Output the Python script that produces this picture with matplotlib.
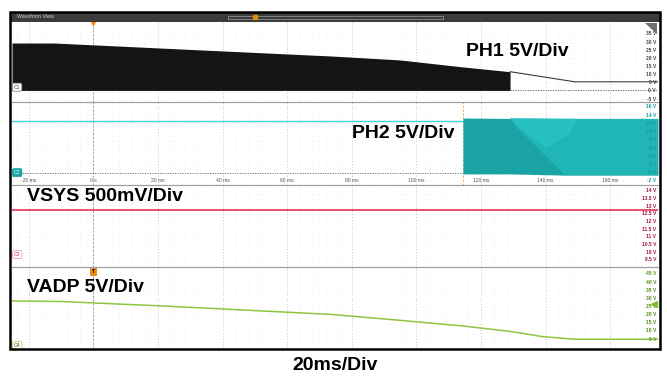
import matplotlib.pyplot as plt
import numpy as np
from matplotlib.patches import Rectangle, Polygon

plt.rcParams["font.family"] = ["Liberation Sans", "DejaVu Sans"]

W, H = 667, 379

# time axis (ms)
t_ticks = [-20, 0, 20, 40, 60, 80, 100, 120, 140, 160]
t_labels = ["-20 ms", "0 s", "20 ms", "40 ms", "60 ms", "80 ms", "100 ms", "120 ms", "140 ms", "160 ms"]

# PH1: switching node envelope (black band) then tail
ph1_t = [-25.2, -12, 22, 74, 95, 114, 129]
ph1_top = [29.4, 29.4, 26.2, 21.4, 19.0, 14.8, 11.8]
ph1_bottom = 0.3
ph1_tail_t = [129, 149, 174.8]
ph1_tail_v = [11.8, 5.6, 5.6]
ph1_labels = [35, 30, 25, 20, 15, 10, 5, 0, -5]

# PH2
ph2_line_t = [-25.2, 114.4]
ph2_line_v = [12.6, 12.6]
ph2_band_t = [114.4, 129, 146, 174.8]
ph2_band_top = [13.3, 13.2, 13.1, 13.1]
ph2_band_bot = [-0.3, -0.3, -0.6, -0.6]
ph2_edge_t = [146, 140, 135, 131, 129]
ph2_edge_v = [-0.6, 4.0, 8.0, 11.0, 13.2]
ph2_labels = [16, 14, 12, 10, 8, 6, 4, 2, 0, -2]

# VSYS
vsys_t = [-25.2, 174.8]
vsys_v = [12.76, 12.76]
vsys_labels = [14, 13.5, 13, 12.5, 12, 11.5, 11, 10.5, 10, 9.5]

# VADP
vadp_t = [-25.2, -10, 0, 22, 74, 95, 115, 129, 139, 149, 174.8]
vadp_v = [28.4, 28.1, 27.2, 25.3, 20.1, 16.5, 12.9, 9.7, 6.5, 4.9, 4.9]
vadp_labels = [45, 40, 35, 30, 25, 20, 15, 10, 5]

XL = (-25.2, 174.8)
X0, X1 = 12, 658

fig = plt.figure(figsize=(W / 100, H / 100), dpi=100)


def px_axes(y0, y1, ylim):
    ax = fig.add_axes([X0 / W, 1 - y1 / H, (X1 - X0) / W, (y1 - y0) / H])
    ax.set_xlim(*XL)
    ax.set_ylim(*ylim)
    for s in ax.spines.values():
        s.set_visible(False)
    ax.set_xticks([])
    ax.set_yticks([])
    for t in np.arange(-24, 175, 4):
        ax.axvline(t, color="#d8d8d8", lw=0.5, ls=(0, (1, 6)), zorder=0)
    for t in t_ticks:
        ax.axvline(t, color="#bdbdbd", lw=0.6, ls=(0, (1, 2.5)), zorder=0)
    ax.axvline(0, color="#9a9a9a", lw=0.7, ls=(0, (2, 2)), zorder=0.5)
    return ax


def right_labels(ax, vals, fmt, color):
    for v in vals:
        ax.text(0.997, v, fmt(v), transform=ax.get_yaxis_transform(),
                ha="right", va="center", fontsize=3.6, color=color,
                fontweight="bold", zorder=6)
    for v in vals:
        ax.axhline(v, color="#e2e2e2", lw=0.5, ls=(0, (1, 8)), zorder=0)


def tag(ax, txt, y, fc, ec, tc):
    ax.text(0.003, y, txt, transform=ax.get_yaxis_transform(), ha="left", va="center",
            fontsize=3.6, color=tc, zorder=7,
            bbox=dict(boxstyle="round,pad=0.3", fc=fc, ec=ec, lw=0.6))


# panel 1
ax1 = px_axes(22, 102, (-6.8, 42.3))
ax1.fill_between(ph1_t, ph1_bottom, ph1_top, color="#141414", lw=0, zorder=2)
ax1.plot(ph1_tail_t, ph1_tail_v, color="#3a3a3a", lw=0.8, zorder=3)
ax1.plot([129, 174.8], [0.3, 0.3], color="#555555", lw=0.6, ls=(0, (1.5, 1.5)), zorder=3)
right_labels(ax1, ph1_labels, lambda v: f"{v} V", "#444444")
ax1.text(115.3, 24.5, "PH1 5V/Div", fontsize=14, fontweight="bold", ha="left", va="center", zorder=8)
tag(ax1, "C1", 2.3, "white", "#888888", "#333333")
ax1.plot(0, 42.3, marker="v", color="#f08a00", ms=5, clip_on=False, zorder=8)

# panel 2
ax2 = px_axes(102, 185, (-3.0, 17.2))
ax2.plot(ph2_line_t, ph2_line_v, color="#48d0d8", lw=1.0, zorder=3)
ax2.plot([-25.2, 114.4], [0, 0], color="#666666", lw=0.6, ls=(0, (1.5, 1.5)), zorder=2)
ax2.axvline(114.4, color="#f0a040", lw=0.7, ls=(0, (2, 2)), zorder=1)
ax2.fill_between(ph2_band_t, ph2_band_bot, ph2_band_top, color="#1aa3a5", lw=0, zorder=3)
poly = list(zip(ph2_band_t[1:], ph2_band_top[1:])) + \
    [(ph2_band_t[-1], ph2_band_bot[-1])] + list(zip(ph2_edge_t, ph2_edge_v))
ax2.add_patch(Polygon(poly, closed=True, fc="#20b5b7", ec="none", zorder=3.5))
ax2.add_patch(Polygon([(129, 13.2), (150, 13.1), (147, 9), (140, 6), (134, 9.5)],
                      closed=True, fc="#26c0c2", ec="none", zorder=3.6))
right_labels(ax2, ph2_labels, lambda v: f"{v} V", "#1a9a9c")
for t, lab in zip(t_ticks, t_labels):
    ax2.text(t, -2.0, lab, ha="center", va="center", fontsize=3.6, color="#555555", zorder=6)
ax2.text(80.0, 9.5, "PH2 5V/Div", fontsize=14, fontweight="bold", ha="left", va="center", zorder=8)
tag(ax2, "C2", 0.0, "#1aa4a6", "#1aa4a6", "#ffffff")

# panel 3
ax3 = px_axes(185, 267, (9.04, 14.39))
ax3.plot(vsys_t, vsys_v, color="#e2204c", lw=1.1, zorder=3)
right_labels(ax3, vsys_labels, lambda v: f"{v:g} V", "#a0143c")
ax3.text(-20.5, 13.67, "VSYS 500mV/Div", fontsize=14, fontweight="bold", ha="left", va="center", zorder=8)
tag(ax3, "C3", 9.85, "white", "#f0a0b0", "#e2204c")

# panel 4
ax4 = px_axes(267, 348, (-0.5, 49.3))
ax4.plot(vadp_t, vadp_v, color="#8cc63f", lw=1.1, zorder=3)
right_labels(ax4, vadp_labels, lambda v: f"{v} V", "#5a8a1a")
ax4.text(-20.5, 36.6, "VADP 5V/Div", fontsize=14, fontweight="bold", ha="left", va="center", zorder=8)
tag(ax4, "C4", 0.9, "white", "#a8d070", "#335511")
ax4.plot(173.5, 26.5, marker="<", color="#7cc030", ms=5, zorder=8, clip_on=False)
ax4.text(0, 46.5, "T", ha="center", va="center", fontsize=3.8, fontweight="bold", color="black", zorder=9,
         bbox=dict(boxstyle="square,pad=0.25", fc="#f08a00", ec="#c06a00", lw=0.4))

# overlay for frame, header and separators (pixel coordinates)
ov = fig.add_axes([0, 0, 1, 1], zorder=20)
ov.set_xlim(0, W)
ov.set_ylim(H, 0)
ov.axis("off")
ov.patch.set_alpha(0)
ov.add_patch(Rectangle((10, 12), 650, 10, fc="#3b3b3b", ec="none"))
ov.text(17, 17, "Waveform View", fontsize=3.8, color="#d0d0d0", va="center", ha="left")
ov.plot([228, 443], [15.5, 15.5], color="#9a9a9a", lw=0.5)
ov.plot([228, 443], [18.5, 18.5], color="#9a9a9a", lw=0.5)
ov.plot([228, 228], [15.5, 18.5], color="#9a9a9a", lw=0.5)
ov.plot([443, 443], [15.5, 18.5], color="#9a9a9a", lw=0.5)
ov.plot(255, 17, marker="s", color="#e08a10", ms=3)
for y in (102, 185, 267):
    ov.plot([12, 658], [y, y], color="#a0a0a0", lw=0.9)
ov.add_patch(Polygon([(645, 23), (657, 23), (657, 34)], closed=True, fc="#707070", ec="none"))
ov.add_patch(Rectangle((10, 12), 650, 337, fc="none", ec="black", lw=1.8))
ov.text(335, 366, "20ms/Div", fontsize=14, fontweight="bold", ha="center", va="center")

fig.savefig("out.png", dpi=100)
